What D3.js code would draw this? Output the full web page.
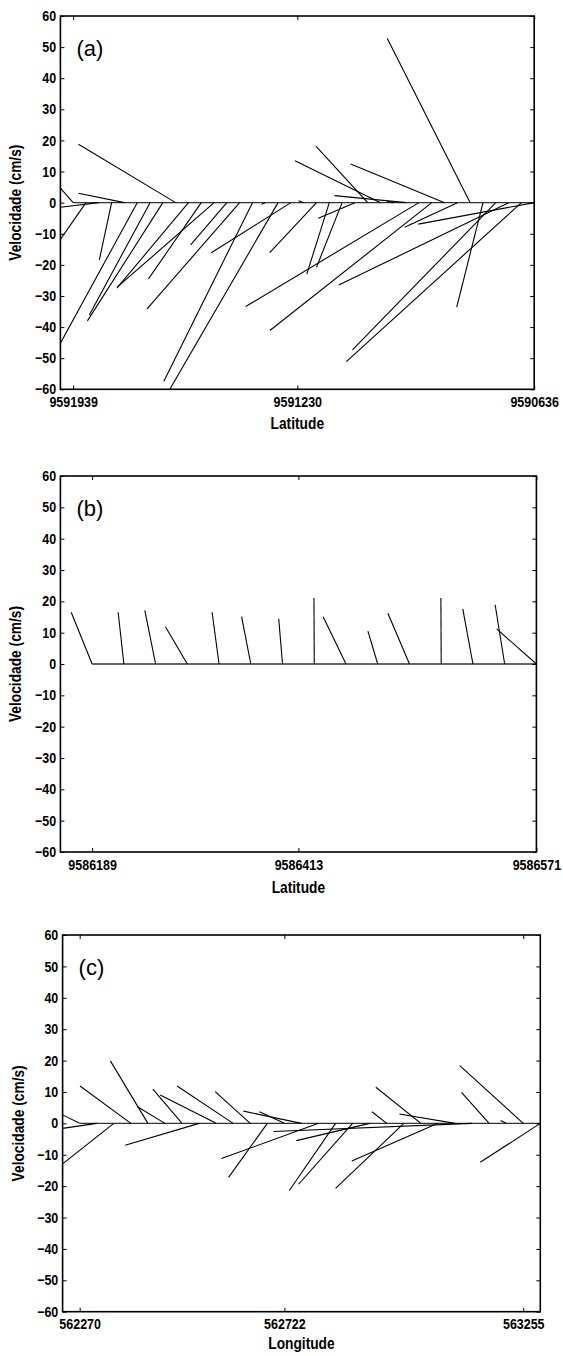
<!DOCTYPE html>
<html>
<head>
<meta charset="utf-8">
<script src="https://cdn.jsdelivr.net/npm/d3@7"></script>
<style>
  html, body { margin: 0; padding: 0; background: #fff; }
  svg { display: block; }
  .tick text { font-family: "Liberation Sans", Arial, sans-serif; font-weight: bold; font-size: 14.5px; fill: #000; }
  .ttl { font-family: "Liberation Sans", Arial, sans-serif; font-weight: bold; font-size: 16px; fill: #000; }
  .plab { font-family: "Liberation Sans", Arial, sans-serif; font-size: 22px; fill: #000; }
</style>
</head>
<body>
<svg id="chart" width="563" height="1356"></svg>
<script>
// ---------------- data ----------------
// panel (a): feather vectors (u in station-index units, v in cm/s)
const uA = [-1.0, -2.0, -3.0, -0.96, -3.59, -6.0, -4.74, -5.89, -7.59, -5.59, -4.12, -7.54, -2.83, -7.25, -6.93, -0.3, -8.74, -6.22, -0.4, -3.65, -1.76, -2.0, -2.86, -4.05, -6.68, -0.5, -5.59, -13.53, -12.64, -7.33, -4.12, -6.47, -2.05, -11.19, -13.26, -13.67, -9.05];
const vA = [4.7, -11.8, -1.5, -18.4, 3.0, -45.2, -36.1, -38.0, 18.8, -27.5, -24.5, -27.1, -13.6, -34.2, -57.5, -0.5, -62, -16.1, 0.6, -16.1, -23.0, -20.8, -5.0, 18.2, 13.5, 0.4, 2.25, -33.4, -41.1, 12.4, -7.9, 52.8, -33.6, -47.3, -26.5, -51.1, -6.9];
const ticksA = [1, 18.5, 37];
const tickLabelsA = ["9591939", "9591230", "9590636"];

// panel (b)
const uB = [-0.66, -0.18, -0.34, -0.69, -0.22, -0.29, -0.12, -0.01, -0.72, -0.31, -0.68, -0.01, -0.32, -0.30, -1.25];
const vB = [16.5, 16.5, 17.1, 11.9, 16.5, 15.1, 14.4, 21.1, 15.1, 10.5, 16.2, 21.1, 17.6, 18.9, 11.2];
const ticksB = [1, 7.5, 15];
const tickLabelsB = ["9586189", "9586413", "9586571"];

// panel (c)
const uC = [-1.0, -2.0, -3.0, -2.98, -2.2, -1.61, -1.71, -4.33, -3.28, -3.29, -2.06, -2.27, -1.46, -3.4, -5.69, -2.71, -3.17, -4.3, -0.87, -4.0, -2.64, -5.05, -3.26, -11.64, -1.62, -0.33, -3.72, -3.52];
const vC = [2.7, -1.6, -12.9, 11.9, 19.9, 5.3, 10.9, -7.0, 9.0, 11.9, 10.1, -17.2, 3.7, 3.9, -11.2, -21.4, -19.4, -5.5, 3.7, -20.7, 11.5, -12.0, 3.0, -2.6, 9.9, 0.9, 18.4, -12.4];
const ticksC = [1, 13, 27];
const tickLabelsC = ["562270", "562722", "563255"];

const yTicks = [-60, -50, -40, -30, -20, -10, 0, 10, 20, 30, 40, 50, 60];
const yDomain = [-60, 60];
const yTitle = "Velocidade (cm/s)";

// ---------------- drawing ----------------
const svg = d3.select("#chart");
const NARROW = 0.86; // emulate a condensed bold face

function panel(cfg) {
  const { u, v, ticks, labels, box, letter, xTitle, id } = cfg;
  const n = u.length;
  const x = d3.scaleLinear().domain([0, n]).range([box.left, box.right]);
  const y = d3.scaleLinear().domain(yDomain).range([box.bottom, box.top]);
  const g = svg.append("g");

  g.append("clipPath").attr("id", "clip" + id)
    .append("rect")
    .attr("x", box.left).attr("y", box.top)
    .attr("width", box.right - box.left).attr("height", box.bottom - box.top);

  const plot = g.append("g").attr("clip-path", `url(#clip${id})`);

  // baseline
  plot.append("line")
    .attr("x1", x(1)).attr("x2", x(n))
    .attr("y1", y(0)).attr("y2", y(0))
    .attr("stroke", "#333").attr("stroke-width", 1.3);

  const data = u.map((d, i) => ({ i: i + 1, u: d, v: v[i] }));
  plot.selectAll("line.vec").data(data).enter().append("line")
    .attr("class", "vec")
    .attr("x1", d => x(d.i)).attr("y1", y(0))
    .attr("x2", d => x(d.i + d.u)).attr("y2", d => y(d.v))
    .attr("stroke", "#000").attr("stroke-width", 1.1);

  // axes with inward ticks
  const fmt = (d, i) => labels[i];
  g.append("g").attr("transform", `translate(0,${box.bottom})`)
    .call(d3.axisBottom(x).tickValues(ticks).tickFormat(fmt).tickSizeInner(-4).tickSizeOuter(0).tickPadding(7.5))
    .call(s => s.select(".domain").remove());
  g.append("g").attr("transform", `translate(0,${box.top})`)
    .call(d3.axisTop(x).tickValues(ticks).tickFormat("").tickSizeInner(-4).tickSizeOuter(0))
    .call(s => s.select(".domain").remove());
  g.append("g").attr("transform", `translate(${box.left},0)`)
    .call(d3.axisLeft(y).tickValues(yTicks).tickFormat(d3.format("d")).tickSizeInner(-4).tickSizeOuter(0).tickPadding(5))
    .call(s => s.select(".domain").remove());
  g.append("g").attr("transform", `translate(${box.right},0)`)
    .call(d3.axisRight(y).tickValues(yTicks).tickFormat("").tickSizeInner(-4).tickSizeOuter(0))
    .call(s => s.select(".domain").remove());
  g.selectAll(".tick line").attr("stroke", "#000").attr("stroke-width", 1);
  g.selectAll(".tick text").attr("transform", `scale(${NARROW},1)`);

  // frame
  g.append("rect")
    .attr("x", box.left).attr("y", box.top)
    .attr("width", box.right - box.left).attr("height", box.bottom - box.top)
    .attr("fill", "none").attr("stroke", "#000").attr("stroke-width", 1.6);

  // titles
  g.append("text").attr("class", "ttl")
    .attr("text-anchor", "middle")
    .attr("transform", `translate(${(box.left + box.right) / 2},${box.bottom + cfg.titleOffset}) scale(${NARROW},1)`)
    .text(xTitle);
  g.append("text").attr("class", "ttl")
    .attr("text-anchor", "middle")
    .attr("transform", `translate(${box.left - 39},${(box.top + box.bottom) / 2}) rotate(-90) scale(${NARROW},1)`)
    .text(yTitle);

  g.append("text").attr("class", "plab")
    .attr("x", box.left + 16).attr("y", box.top + 40)
    .text(letter);
}

panel({ id: "a", u: uA, v: vA, ticks: ticksA, labels: tickLabelsA, letter: "(a)", xTitle: "Latitude",
        box: { left: 60.4, right: 534.2, top: 16, bottom: 389.3 }, titleOffset: 40 });
panel({ id: "b", u: uB, v: vB, ticks: ticksB, labels: tickLabelsB, letter: "(b)", xTitle: "Latitude",
        box: { left: 60.4, right: 536.4, top: 476, bottom: 852 }, titleOffset: 41 });
panel({ id: "c", u: uC, v: vC, ticks: ticksC, labels: tickLabelsC, letter: "(c)", xTitle: "Longitude",
        box: { left: 62.6, right: 540.3, top: 935, bottom: 1311.7 }, titleOffset: 37 });
</script>
</body>
</html>
